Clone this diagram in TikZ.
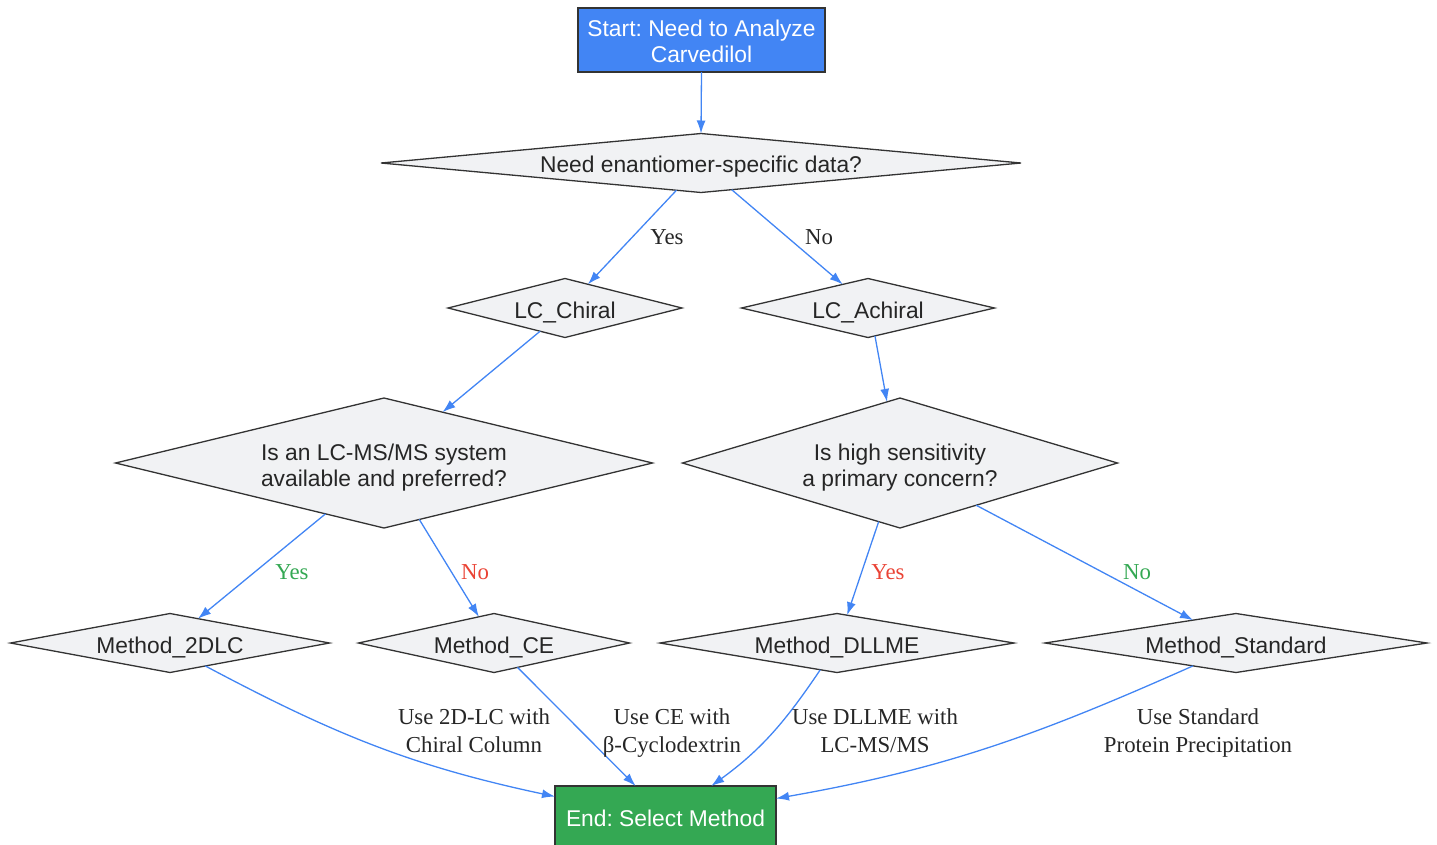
\documentclass[tikz,border=0pt]{standalone}
\usepackage{fontspec}
\setmainfont{Liberation Serif}
\setsansfont{Liberation Sans}
\usetikzlibrary{shapes.geometric,arrows.meta}
\definecolor{gblue}{HTML}{4285F4}
\definecolor{ggreen}{HTML}{34A853}
\definecolor{gred}{HTML}{EA4335}
\definecolor{dfill}{HTML}{F1F2F4}
\definecolor{dline}{HTML}{333333}
\frenchspacing
\begin{document}
\begin{tikzpicture}[x=1pt,y=1pt,
  txt/.style={font=\sffamily\fontsize{22.8}{26}\selectfont, align=center},
  dec/.style={shape=diamond, draw=dline, fill=dfill, line width=1.3pt, inner sep=0pt, outer sep=0pt},
  dtext/.style={txt, text=black!85, yshift=-4pt},
  boxnode/.style={shape=rectangle, draw=dline, line width=1.3pt, inner sep=0pt, outer sep=0pt},
  btext/.style={txt, text=white},
  conn/.style={draw=gblue, line width=1.3pt, -{Latex[length=13pt,width=9pt]}},
  lbl/.style={font=\fontsize{22.8}{28}\selectfont, align=center, text=black!85},
]
\useasboundingbox (0,0) rectangle (1437,-844);

\node[boxnode, fill=gblue, minimum width=247, minimum height=64, label={[btext, yshift=-1pt]center:{Start: Need to Analyze\\Carvedilol}}] (start) at (701.5,-40) {};
\node[dec, minimum width=640, minimum height=59, label={[dtext]center:Need enantiomer-specific data?}] (d1) at (701,-163) {};
\node[dec, minimum width=234, minimum height=59, label={[dtext]center:LC\_Chiral}] (lcc) at (565,-308) {};
\node[dec, minimum width=253, minimum height=59, label={[dtext]center:LC\_Achiral}] (lca) at (868,-308) {};
\node[dec, minimum width=537, minimum height=130, label={[dtext, yshift=-0.5pt]center:{Is an LC-MS/MS system\\available and preferred?}}] (d2) at (384,-463) {};
\node[dec, minimum width=435, minimum height=130, label={[dtext, yshift=-0.5pt]center:{Is high sensitivity\\a primary concern?}}] (d3) at (900,-463) {};
\node[dec, minimum width=319, minimum height=59, label={[dtext]center:Method\_2DLC}] (m2d) at (170,-643) {};
\node[dec, minimum width=271, minimum height=59, label={[dtext]center:Method\_CE}] (mce) at (494,-643) {};
\node[dec, minimum width=354, minimum height=59, label={[dtext]center:Method\_DLLME}] (mdl) at (837,-643) {};
\node[dec, minimum width=382, minimum height=59, label={[dtext]center:Method\_Standard}] (mst) at (1236,-643) {};
\node[boxnode, fill=ggreen, minimum width=221, minimum height=64, label={[btext]center:End: Select Method}] (end) at (665.5,-818) {};

\draw[conn] (start.south) -- (d1.north);
\draw[conn] (d1.228) -- (lcc.46);
\draw[conn] (d1.319) -- (lca.137);
\draw[conn] (lcc.223) -- (d2.41);
\draw[conn] (lca.284) -- (d3.102);
\draw[conn] (d2.221) -- (m2d.41);
\draw[conn] (d2.302) -- (mce.120);
\draw[conn] (d3.250) -- (mdl.70);
\draw[conn] (d3.331) -- (mst.152);
\draw[conn] (m2d.327) to[out=-28, in=168] (end.169);
\draw[conn] (mce.314) -- (end.133);
\draw[conn] (mdl.238) to[out=-124, in=36] (end.35);
\draw[conn] (mst.208) to[out=-156, in=10] (end.10);

\node[lbl] (ly1) at (667,-237) {Yes};
\node[lbl] (ln1) at (819,-237) {No};
\node[lbl, text=ggreen] (ly2) at (292,-572) {Yes};
\node[lbl, text=gred] (ln2) at (475,-572) {No};
\node[lbl, text=gred] (ly3) at (888,-572) {Yes};
\node[lbl, text=ggreen] (ln3) at (1137,-572) {No};
\node[lbl] (e1) at (474,-731) {Use 2D-LC with\\Chiral Column};
\node[lbl] (e2) at (672,-733) {Use CE with\\β-Cyclodextrin};
\node[lbl] (e3) at (875,-731) {Use DLLME with\\LC-MS/MS};
\node[lbl] (e4) at (1198,-733) {Use Standard\\Protein Precipitation};
\end{tikzpicture}
\end{document}
